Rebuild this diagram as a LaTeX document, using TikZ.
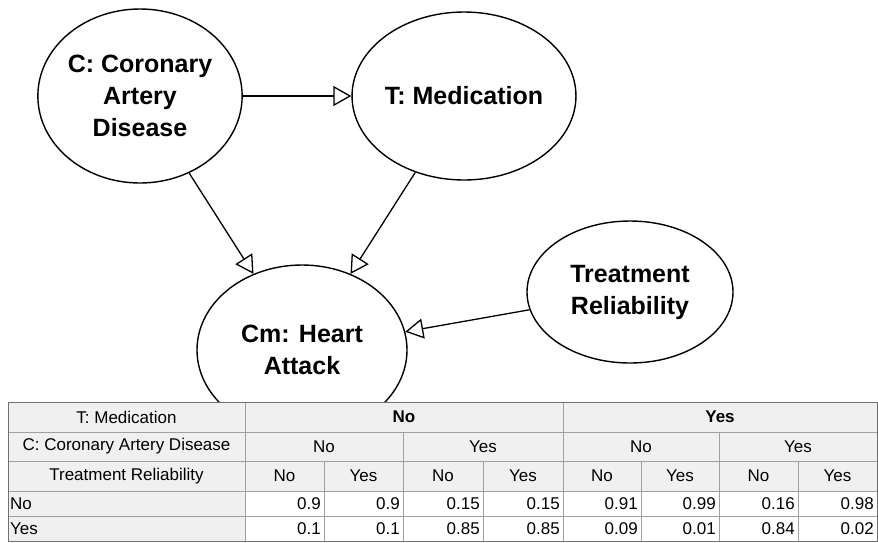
\documentclass[tikz,border=0pt]{standalone}
\usepackage{fontspec}
\setmainfont{Liberation Sans}
\usetikzlibrary{arrows.meta,shapes.geometric}
\definecolor{cellgray}{HTML}{F0F0F0}
\definecolor{gridgray}{HTML}{A0A0A0}
\tikzset{
  var/.style={draw,ellipse,line width=1.4pt,fill=white,inner sep=0pt,align=center,
    font=\bfseries\fontsize{25}{32}\selectfont},
  dep/.style={line width=1.3pt,-{Triangle[open,length=18pt,width=20pt,line width=1.3pt]}},
  hcell/.style={fill=cellgray,draw=gridgray,line width=1pt},
  vcell/.style={fill=white,draw=gridgray,line width=1pt},
  tab/.style={font=\fontsize{17}{20}\selectfont,inner sep=0pt}
}
\begin{document}
\begin{tikzpicture}[x=1pt,y=-1pt]
  \useasboundingbox (0,0) rectangle (878,542);
  % network
  \node[var,minimum width=198pt,minimum height=174pt] (C) at (140,96) {C: Coronary\\Artery\\Disease};
  \node[var,minimum width=202pt,minimum height=168pt] (T) at (464,96) {T: Medication};
  \node[var,minimum width=210pt,minimum height=170pt] (Cm) at (302,350) {Cm: Heart\\Attack};
  \node[var,minimum width=206pt,minimum height=142pt] (TR) at (630,292) {Treatment\\Reliability};
  \draw[dep] (C) -- (T);
  \draw[dep] (C) -- (Cm);
  \draw[dep] (T) -- (Cm);
  \draw[dep] (TR) -- (Cm);
  % CPT of Cm
  \foreach \y/\z/\t [count=\i] in {402/432/T: Medication,432/461/C: Coronary Artery Disease,461/491/Treatment Reliability}
    {\draw[hcell] (8,\y) rectangle (245,\z); \node[tab] (par\i) at (126.5,{(\y+\z)/2}) {\t};}
  \foreach \y/\z/\t [count=\i] in {491/516/No,516/541/Yes}
    {\draw[hcell] (8,\y) rectangle (245,\z); \node[tab,anchor=west] (st\i) at (10,{(\y+\z)/2}) {\t};}
  \foreach \a/\b/\t [count=\i] in {245/563/No,563/877/Yes}
    {\draw[hcell] (\a,402) rectangle (\b,432);
     \node[tab,font=\bfseries\fontsize{17}{20}\selectfont] (med\i) at ({(\a+\b)/2},417) {\t};}
  \foreach \a/\b/\t [count=\i] in {245/403/No,403/563/Yes,563/719/No,719/877/Yes}
    {\draw[hcell] (\a,432) rectangle (\b,461); \node[tab] (cad\i) at ({(\a+\b)/2},446.5) {\t};}
  \foreach \a/\b/\t/\p/\q [count=\i] in {245/324/No/0.9/0.1,324/403/Yes/0.9/0.1,403/483/No/0.15/0.85,
      483/563/Yes/0.15/0.85,563/641/No/0.91/0.09,641/719/Yes/0.99/0.01,719/798/No/0.16/0.84,798/877/Yes/0.98/0.02}
    {\draw[hcell] (\a,461) rectangle (\b,491); \node[tab] (rel\i) at ({(\a+\b)/2},476) {\t};
     \draw[vcell] (\a,491) rectangle (\b,516); \node[tab,anchor=east] (pno\i) at (\b-3,503.5) {\p};
     \draw[vcell] (\a,516) rectangle (\b,541); \node[tab,anchor=east] (pyes\i) at (\b-3,528.5) {\q};}
  \draw[gridgray!70!black,line width=1pt] (8,402) rectangle (877,541);
\end{tikzpicture}
\end{document}
